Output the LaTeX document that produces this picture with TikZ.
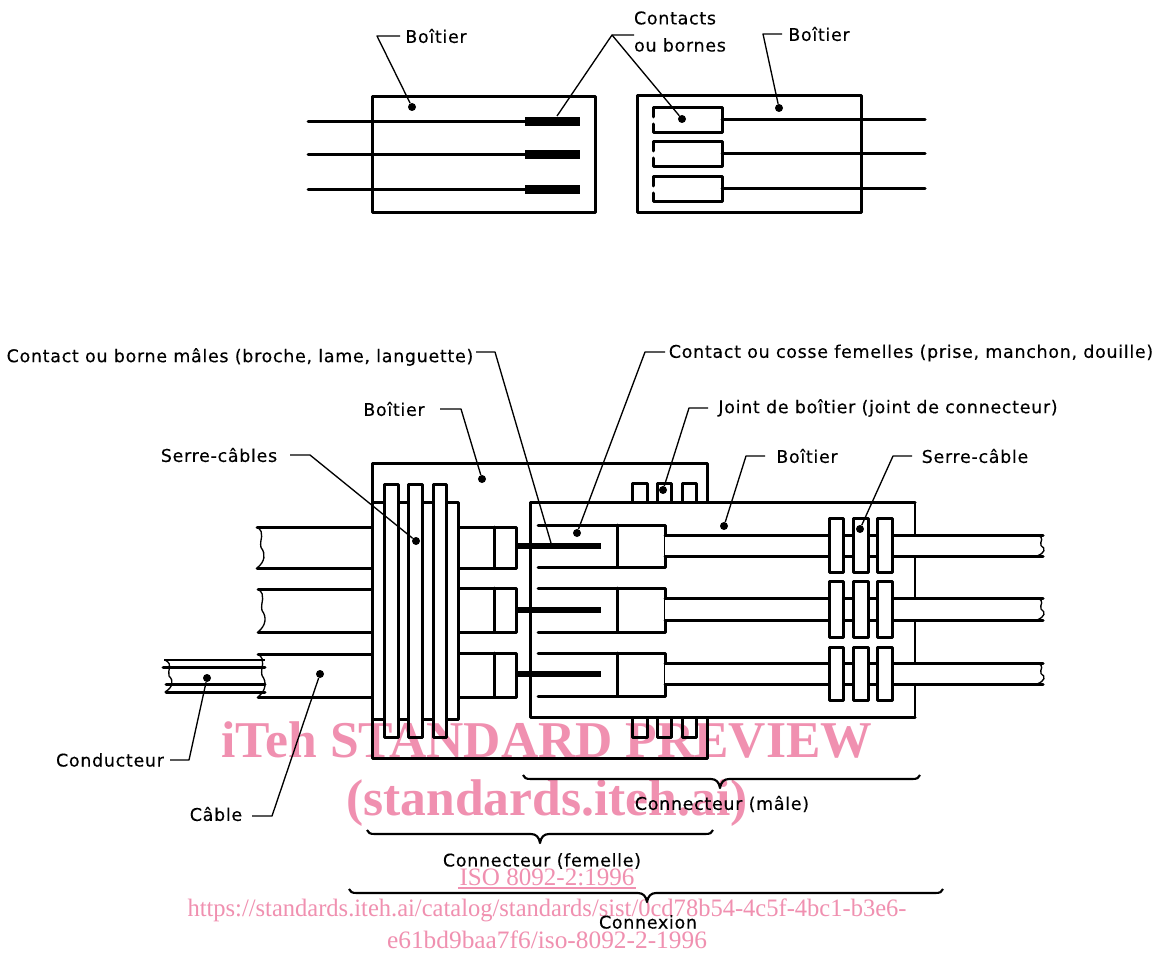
\documentclass[tikz,border=0pt]{standalone}
\usepackage{fontspec}
\setmainfont{Liberation Serif}
\newfontfamily\labfont[LetterSpace=4,FakeBold=0.3]{DejaVu Sans}
\definecolor{wm}{HTML}{F090B0}
\tikzset{
  x=0.75pt,y=-0.75pt,
  main/.style={line width=2.25pt,line cap=round,line join=round},
  thin line/.style={line width=1.5pt,line join=round},
  leader/.style={line width=1pt,line join=round},
  leaddot/.style={circle,fill=black,inner sep=0pt,minimum size=6pt},
  lab/.style={font=\labfont\fontsize{13.1}{15}\selectfont,inner sep=2pt,anchor=center},
  strip/.style={main,fill=white},
  wave/.style={line width=1pt},
  brace/.style={line width=1.6pt,line join=round},
  wmb/.style={text=wm,font=\bfseries\fontsize{38.7}{42}\selectfont,inner sep=0pt},
  wms/.style={text=wm,font=\fontsize{18.8}{20}\selectfont,inner sep=0pt},
}
\newcommand{\wavyend}[3]{% x, y1, y2
  \draw[wave] (#1,#2) .. controls (#1+9,#2+0.15*#3-0.15*#2) and (#1+2,#2+0.3*#3-0.3*#2) .. (#1+4,#2*0.5+#3*0.5) .. controls (#1+9,#2*0.35+#3*0.65) and (#1+8,#2*0.15+#3*0.85) .. (#1,#3);}
\newcommand{\ubrace}[4]{% x1, xmid, x2, y
  \draw[brace] (#1,#4-4) .. controls (#1+1,#4-1) and (#1+3,#4) .. (#1+8,#4) -- (#2-9,#4) .. controls (#2-4,#4) and (#2-1,#4+3) .. (#2,#4+9) .. controls (#2+1,#4+3) and (#2+4,#4) .. (#2+9,#4) -- (#3-8,#4) .. controls (#3-3,#4) and (#3-1,#4-1) .. (#3,#4-4);}
\begin{document}
\begin{tikzpicture}
\useasboundingbox (0,0) rectangle (1162,952);
\fill[white] (0,0) rectangle (1162,952);

% ---------- upper figure
\draw[main] (372,97) rectangle (595,213);
\foreach \y in {122,155,190}{
  \draw[main] (308,\y) -- (526,\y);
  \fill (525,\y-5) rectangle (580,\y+4);
}
\draw[main] (637,96) rectangle (861,213);
\foreach \y/\t in {108/120,142/154,177/189}{
  \draw[main] (653,\y+9) -- (653,\y) -- (722,\y) -- (722,\y+25) -- (653,\y+25) -- (653,\y+16);
  \draw[main] (722,\t) -- (925,\t);
}

% ---------- lower figure: female housing
\draw[main,fill=white] (372,463) rectangle (707,758);
% left cables
\foreach \a/\b/\x in {527/568/257,589/632/258,654/697/258}{
  \draw[main] (\x,\a) -- (372,\a);
  \draw[main] (\x,\b) -- (372,\b);
  \wavyend{\x}{\a}{\b}
}
% conductor
\draw[thin line] (164,660) -- (265,660);
\draw[main] (163,667) -- (265,667);
\draw[main] (166,684) -- (265,684);
\draw[main] (166,692) -- (265,692);
\wavyend{165}{660}{692}
% female contacts
\foreach \a/\b in {527/568,588/632,653/697}{
  \draw[main] (458,\a) -- (516,\a) -- (516,\b) -- (458,\b);
  \draw[main] (494,\a) -- (494,\b);
}
% cable clamp
\draw[main,fill=white] (372,502) rectangle (458,719);
\foreach \a/\b in {384/398,408/422,433/446}
  \draw[strip] (\a,484) rectangle (\b,737);
% seals
\foreach \a/\b in {632/647,657/671,682/696}{
  \draw[strip] (\a,502) -- (\a,483) -- (\b,483) -- (\b,502);
  \draw[strip] (\a,717) -- (\a,737) -- (\b,737) -- (\b,717);
}
% male housing
\fill[white] (530,502) rectangle (915,717);
\draw[main] (915,502) -- (530,502) -- (530,717) -- (915,717);
\draw[thin line] (915,502) -- (915,717);
% male contacts and cables
\foreach \a/\b/\c/\d/\p in {525/567/535/556/546,588/632/598/620/610,653/696/663/684/674}{
  \draw[main] (538,\a) -- (665,\a) -- (665,\b) -- (538,\b);
  \draw[main] (617,\a) -- (617,\b);
  \fill[white] (665,\c) rectangle (1043,\d);
  \draw[main] (665,\c) -- (1043,\c);
  \draw[main] (665,\d) -- (1043,\d);
  \wavyend{1037}{\c}{\d}
  \draw[line width=4.8pt] (516,\p) -- (601,\p);
}
% rear clamps
\foreach \t/\u in {518/572,581/637,647/700}
  \foreach \a/\b in {829/843,853/868,877/892}
    \draw[strip] (\a,\t) rectangle (\b,\u);

% ---------- labels
\node[lab] (boitA) at (436,36) {Boîtier};
\node[lab] (contacts) at (675,18) {Contacts};
\node[lab] (bornes) at (680,45) {ou bornes};
\node[lab] (boitB) at (819,34) {Boîtier};
\node[lab] (mal) at (240,357) {Contact ou borne mâles (broche, lame, languette)};
\node[lab] (fem) at (911,353) {Contact ou cosse femelles (prise, manchon, douille)};
\node[lab] (boitC) at (394,409) {Boîtier};
\node[lab] (joint) at (888,408) {Joint de boîtier (joint de connecteur)};
\node[lab] (serreA) at (219,455) {Serre-câbles};
\node[lab] (boitD) at (807,456) {Boîtier};
\node[lab] (serreB) at (975,456) {Serre-câble};
\node[lab] (cond) at (110,760) {Conducteur};
\node[lab] (cable) at (216,814) {Câble};
\node[lab] (cmale) at (722,804) {Connecteur (mâle)};
\node[lab] (cfem) at (542,861) {Connecteur (femelle)};
\node[lab] (cnx) at (648,922) {Connexion};

% ---------- leaders
\node[leaddot] (dA) at (412,107) {};
\node[leaddot] (dB) at (682,119) {};
\node[leaddot] (dC) at (779,108) {};
\node[leaddot] (dD) at (577,533) {};
\node[leaddot] (dE) at (482,479) {};
\node[leaddot] (dF) at (663,490) {};
\node[leaddot] (dG) at (416,541) {};
\node[leaddot] (dH) at (724,526) {};
\node[leaddot] (dI) at (860,529) {};
\node[leaddot] (dJ) at (207,678) {};
\node[leaddot] (dK) at (320,674) {};
\coordinate (pA) at (557,116);
\coordinate (pB) at (551,543);
\draw[leader] (400,36) -- (377,36) -- (dA);
\draw[leader] (634,35) -- (612,35) -- (pA);
\draw[leader] (612,35) -- (dB);
\draw[leader] (782,34) -- (763,34) -- (dC);
\draw[leader] (476,352) -- (495,352) -- (pB);
\draw[leader] (665,352) -- (645,352) -- (dD);
\draw[leader] (440,409) -- (461,409) -- (dE);
\draw[leader] (708,408) -- (689,408) -- (dF);
\draw[leader] (290,455) -- (310,455) -- (dG);
\draw[leader] (765,456) -- (746,456) -- (dH);
\draw[leader] (912,456) -- (893,456) -- (dI);
\draw[leader] (170,760) -- (189,760) -- (dJ);
\draw[leader] (252,816) -- (272,816) -- (dK);

% ---------- braces
\ubrace{523}{720}{920}{779}
\ubrace{367}{540}{713}{834}
\ubrace{349}{647}{943}{893}

% ---------- watermark
\begin{scope}[blend mode=multiply]
\node[wmb] (w1) at (547,740) {iTeh STANDARD PREVIEW};
\node[wmb] (w2) at (547,803) {(standards.iteh.ai)};
\node[wms] (w3) at (547,877) {ISO 8092-2:1996};
\draw[wm,line width=0.9pt] (458,888) -- (636,888);
\node[wms] (w4) at (547,910) {\scalebox{0.978}[1]{https://standards.iteh.ai/catalog/standards/sist/0cd78b54-4c5f-4bc1-b3e6-}};
\node[wms] (w5) at (547,940) {\scalebox{1.012}[1]{e61bd9baa7f6/iso-8092-2-1996}};
\end{scope}
\end{tikzpicture}
\end{document}
